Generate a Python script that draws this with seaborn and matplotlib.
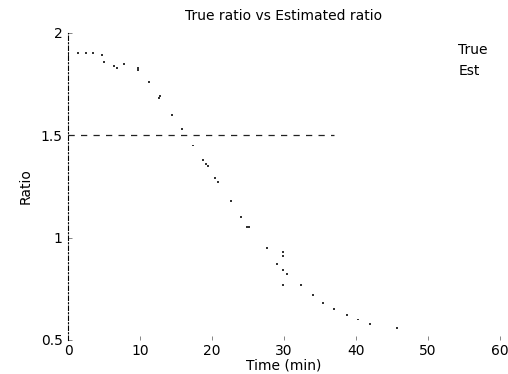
import matplotlib
matplotlib.use("Agg")
import matplotlib.pyplot as plt
import seaborn as sns
import pandas as pd

sns.set_style("white")
plt.rcParams['font.family'] = ['DejaVu Sans']
plt.rcParams['text.color'] = 'black'
plt.rcParams['axes.labelcolor'] = 'black'
plt.rcParams['xtick.color'] = 'black'
plt.rcParams['ytick.color'] = 'black'

# True ratio (dashed reference level)
true_time = [0, 37]
true_ratio = [1.5, 1.5]

# Estimated ratio (dotted points)
est_time = [0, 0, 1.4, 2.5, 3.5, 4.7, 5.0, 6.4, 6.8, 7.8, 9.7, 9.7, 11.3, 12.6, 12.8,
            14.4, 15.8, 17.4, 18.8, 19.2, 19.4, 20.4, 20.8, 22.6, 24.0, 24.9, 25.1,
            27.6, 29.0, 29.9, 29.9, 29.9, 30.4, 29.9, 32.4, 34.0, 35.4, 37.0, 38.7,
            40.3, 42.0, 45.7]
est_ratio = [1.92, 1.89, 1.90, 1.90, 1.90, 1.89, 1.86, 1.84, 1.83, 1.85, 1.83, 1.82,
             1.76, 1.68, 1.69, 1.60, 1.53, 1.45, 1.38, 1.36, 1.35, 1.29, 1.27, 1.18,
             1.10, 1.05, 1.05, 0.95, 0.87, 0.93, 0.91, 0.84, 0.82, 0.77, 0.77, 0.72,
             0.68, 0.65, 0.62, 0.60, 0.58, 0.56]

xticks = [0, 10, 20, 30, 40, 50, 60]
yticks = [0.5, 1, 1.5, 2]

df_true = pd.DataFrame({"Time": true_time, "Ratio": true_ratio})
df_est = pd.DataFrame({"Time": est_time, "Ratio": est_ratio})

fig = plt.figure(figsize=(5.08, 3.74), dpi=100)
ax = fig.add_axes([0.134, 0.091, 0.85, 0.821])

sns.lineplot(data=df_true, x="Time", y="Ratio", ax=ax, color="#222222",
             linewidth=0.9, linestyle=(0, (5, 5)), label="True")
sns.scatterplot(data=df_est, x="Time", y="Ratio", ax=ax, color="#333333",
                s=2.0, marker="s", edgecolor="none", label="Est")

ax.set_xlim(0, 60)
ax.set_ylim(0.5, 2)
ax.set_xticks(xticks)
ax.set_xticklabels([str(t) for t in xticks])
ax.set_yticks(yticks)
ax.set_yticklabels(["0.5", "1", "1.5", "2"])
ax.tick_params(axis="both", labelsize=10, direction="in", length=3, width=0.5,
               color="#555555", labelcolor="black", pad=4, left=True, bottom=True)
ax.tick_params(axis="x", pad=3)

for s in ["top", "right", "bottom"]:
    ax.spines[s].set_visible(False)
ax.spines["left"].set_linestyle((0, (4, 2, 1, 2)))
ax.spines["left"].set_linewidth(0.8)
ax.spines["left"].set_color("black")

ax.set_title("True ratio vs Estimated ratio", fontsize=10, pad=9, color="black")
ax.set_xlabel("Time (min)", fontsize=10, labelpad=0, color="black")
ax.set_ylabel("Ratio", fontsize=10, labelpad=6, color="black")

leg = ax.legend(loc="upper right", frameon=False, fontsize=10, handlelength=0,
                handletextpad=0, borderaxespad=0.0, bbox_to_anchor=(0.985, 0.985),
                labelcolor="black")
for h in leg.legend_handles:
    h.set_visible(False)

fig.savefig("out.png", dpi=100, facecolor="white")
